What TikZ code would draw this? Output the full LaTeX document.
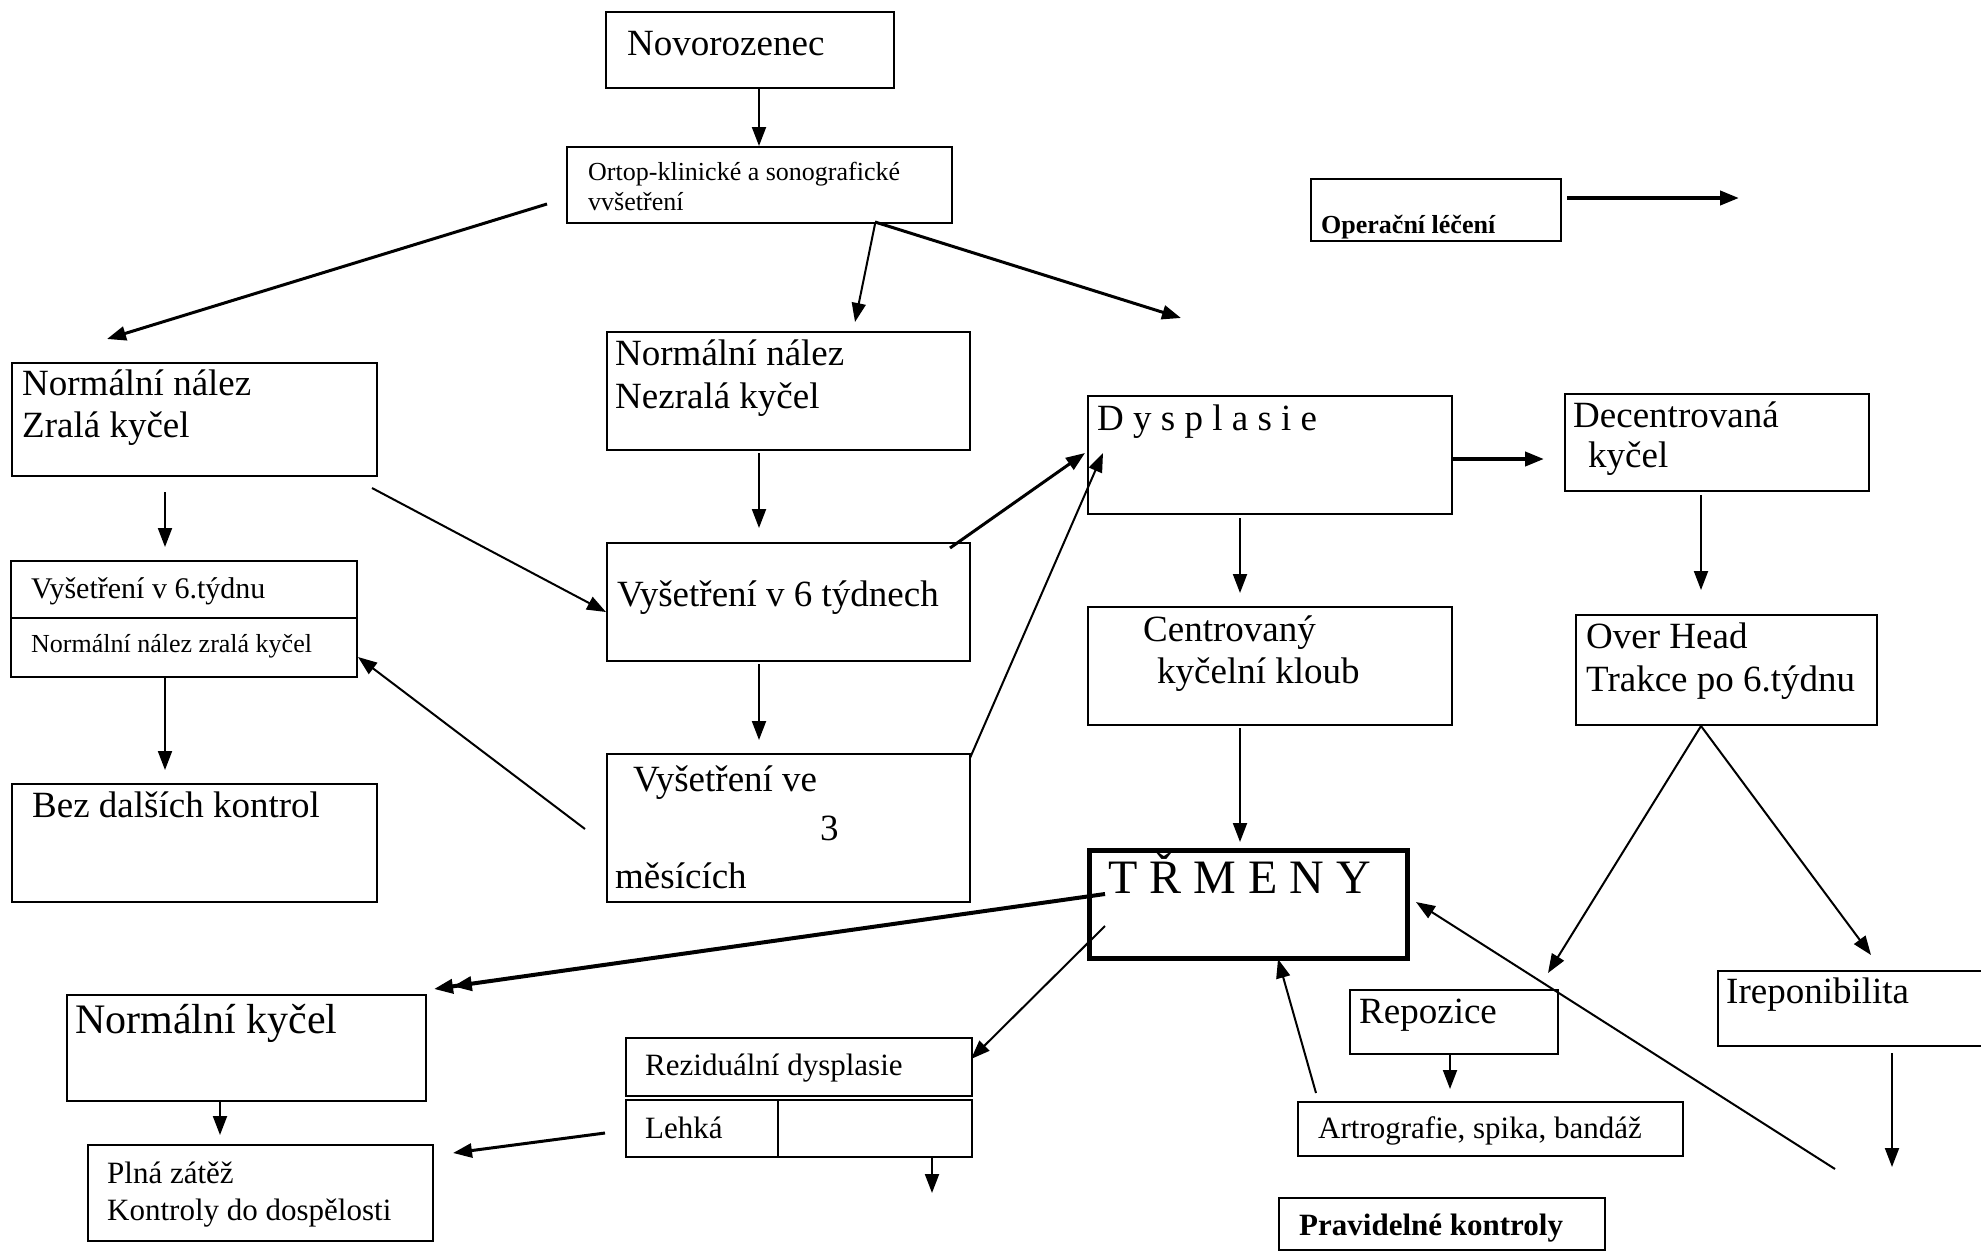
\documentclass[tikz,border=0pt]{standalone}
\usepackage{fontspec}
\setmainfont{Liberation Serif}
\usetikzlibrary{arrows.meta,calc}
\newcommand\fsz[1]{\fontsize{#1}{#1}\selectfont}
\newcommand\bx[6][]{\node[boxst,#1, minimum width=#5-#3, minimum height=#6-#4] (#2) at (#3,#4) {};}
\begin{document}
\begin{tikzpicture}[x=1pt,y=-1pt,
  boxst/.style={draw, line width=2.2pt, inner sep=0pt, anchor=north west},
  txt/.style={anchor=base west, inner sep=0pt},
  arr/.style={-{Triangle[length=19pt,width=14pt]}, line width=2pt},
  thk/.style={line width=3pt},
  big/.style={font=\fsz{37}},
  mid/.style={font=\fsz{31}},
  sml/.style={font=\fsz{26}}]
\fill[white] (0,0) rectangle (1981,1251);
\useasboundingbox (0,0) rectangle (1981,1251);
% boxes
\bx{nov}{605}{11}{893}{87}
\bx{ortop}{566}{146}{951}{222}
\bx{nnz}{11}{362}{376}{475}
\bx{nnn}{606}{331}{969}{449}
\bx{oper}{1310}{178}{1560}{240}
\bx{dys}{1087}{395}{1451}{513}
\bx{dec}{1564}{393}{1868}{490}
\bx{vsix}{10}{560}{356}{676}
\bx{bez}{11}{783}{376}{901}
\bx{vsixt}{606}{542}{969}{660}
\bx{vtri}{606}{753}{969}{901}
\bx{cen}{1087}{606}{1451}{724}
\bx{over}{1575}{614}{1876}{724}
\bx[line width=4.5pt]{trm}{1087}{848}{1405}{956}
\bx{rep}{1349}{989}{1557}{1053}
\bx{art}{1297}{1101}{1682}{1155}
\bx{irep}{1717}{970}{2010}{1045}
\bx{prav}{1278}{1197}{1604}{1249}
\bx{nk}{66}{994}{425}{1100}
\bx{plna}{87}{1144}{432}{1240}
\bx{rez}{625}{1037}{971}{1095}
\bx{leh}{625}{1099}{971}{1156}
% dividers
\draw[line width=2.2pt] ($(vsix.north west)+(0,58)$) -- ($(vsix.north east)+(0,58)$);
\draw[line width=1.6pt] ($(leh.north west)+(153,0)$) -- ($(leh.south west)+(153,0)$);
% texts
\node[txt,big] (tnov) at (627,55) {Novorozenec};
\node[txt,sml] (tortA) at (588,180) {Ortop-klinické a sonografické};
\node[txt,sml] (tortB) at (588,210) {vvšetření};
\node[txt,big] (tnnzA) at (22,395) {Normální nález};
\node[txt,big] (tnnzB) at (22,437) {Zralá kyčel};
\node[txt,big] (tnnnA) at (615,365) {Normální nález};
\node[txt,big] (tnnnB) at (615,408) {Nezralá kyčel};
\node[txt,font=\bfseries\fsz{26}] (toper) at (1321,233) {Operační léčení};
\node[txt,big] (tdys) at (1097,430) {D y s p l a s i e};
\node[txt,big] (tdecA) at (1573,427) {Decentrovaná};
\node[txt,big] (tdecB) at (1588,467) {kyčel};
\node[txt,font=\fsz{30}] (tvsixA) at (31,598) {Vyšetření v 6.týdnu};
\node[txt,sml] (tvsixB) at (31,652) {Normální nález zralá kyčel};
\node[txt,big] (tbez) at (32,817) {Bez dalších kontrol};
\node[txt,big] (tvsixt) at (617,606) {Vyšetření v 6 týdnech};
\node[txt,big] (tvtriA) at (633,791) {Vyšetření ve};
\node[txt,big] (tvtriB) at (820,840) {3};
\node[txt,big] (tvtriC) at (615,888) {měsících};
\node[txt,big] (tcenA) at (1143,641) {Centrovaný};
\node[txt,big] (tcenB) at (1157,683) {kyčelní kloub};
\node[txt,big] (toverA) at (1586,648) {Over Head};
\node[txt,big] (toverB) at (1586,691) {Trakce po 6.týdnu};
\node[txt,font=\fsz{48}] (ttrm) at (1108,893) {T Ř M E N Y};
\node[txt,big] (trep) at (1359,1023) {Repozice};
\node[txt,mid] (tart) at (1318,1138) {Artrografie, spika, bandáž};
\node[txt,big] (tirep) at (1726,1003) {Ireponibilita};
\node[txt,font=\bfseries\fsz{31}] (tprav) at (1299,1235) {Pravidelné kontroly};
\node[txt,font=\fsz{42}] (tnk) at (75,1033) {Normální kyčel};
\node[txt,mid] (tplnaA) at (107,1183) {Plná zátěž};
\node[txt,mid] (tplnaB) at (107,1220) {Kontroly do dospělosti};
\node[txt,mid] (trez) at (645,1075) {Reziduální dysplasie};
\node[txt,mid] (tleh) at (645,1138) {Lehká};
% connector end points
\coordinate (a1s) at (759,88);   \coordinate (a1e) at (759,146);
\coordinate (a2s) at (547,204);  \coordinate (a2e) at (107,339);
\coordinate (a3s) at (875,224);  \coordinate (a3e) at (855,322);
\coordinate (a4s) at (875,222);  \coordinate (a4e) at (1181,318);
\coordinate (a5s) at (165,492);  \coordinate (a5e) at (165,547);
\coordinate (a6s) at (372,488);  \coordinate (a6e) at (606,612);
\coordinate (a7s) at (759,453);  \coordinate (a7e) at (759,528);
\coordinate (a8s) at (165,676);  \coordinate (a8e) at (165,770);
\coordinate (a9s) at (759,664);  \coordinate (a9e) at (759,740);
\coordinate (a10s) at (585,829); \coordinate (a10e) at (358,657);
\coordinate (a11s) at (950,548); \coordinate (a11e) at (1085,453);
\coordinate (a12s) at (970,758); \coordinate (a12e) at (1103,453);
\coordinate (a13s) at (1451,459); \coordinate (a13e) at (1544,459);
\coordinate (a14s) at (1567,198); \coordinate (a14e) at (1739,198);
\coordinate (a15s) at (1240,518); \coordinate (a15e) at (1240,593);
\coordinate (a16s) at (1240,728); \coordinate (a16e) at (1240,842);
\coordinate (a17s) at (1701,495); \coordinate (a17e) at (1701,590);
\coordinate (apex) at (1701,726);
\coordinate (a18e) at (1548,973);
\coordinate (a19e) at (1871,955);
\coordinate (a20s) at (1450,1053); \coordinate (a20e) at (1450,1089);
\coordinate (a21s) at (1316,1093); \coordinate (a21e) at (1278,959);
\coordinate (a22s) at (1835,1169); \coordinate (a22e) at (1416,902);
\coordinate (a23s) at (1892,1053); \coordinate (a23e) at (1892,1167);
\coordinate (a24s) at (1105,894); \coordinate (a24e) at (434,989);
\coordinate (a25s) at (1105,926); \coordinate (a25e) at (971,1059);
\coordinate (a26s) at (220,1100); \coordinate (a26e) at (220,1135);
\coordinate (a27s) at (605,1133); \coordinate (a27e) at (453,1153);
\coordinate (a28s) at (932,1156); \coordinate (a28e) at (932,1193);
% connectors
\draw[arr] (a1s) -- (a1e);
\draw[arr,thk] (a2s) -- (a2e);
\draw[arr] (a3s) -- (a3e);
\draw[arr,thk] (a4s) -- (a4e);
\draw[arr] (a5s) -- (a5e);
\draw[arr] (a6s) -- (a6e);
\draw[arr] (a7s) -- (a7e);
\draw[arr] (a8s) -- (a8e);
\draw[arr] (a9s) -- (a9e);
\draw[arr] (a10s) -- (a10e);
\draw[arr,thk] (a11s) -- (a11e);
\draw[arr] (a12s) -- (a12e);
\draw[arr,line width=4pt] (a13s) -- (a13e);
\draw[arr,line width=4pt] (a14s) -- (a14e);
\draw[arr] (a15s) -- (a15e);
\draw[arr] (a16s) -- (a16e);
\draw[arr] (a17s) -- (a17e);
\draw[arr] (apex) -- (a18e);
\draw[arr] (apex) -- (a19e);
\draw[arr] (a20s) -- (a20e);
\draw[arr] (a21s) -- (a21e);
\draw[arr] (a22s) -- (a22e);
\draw[arr] (a23s) -- (a23e);
\draw[-{Triangle[length=19pt,width=14pt] Triangle[length=19pt,width=14pt]}, line width=4pt] (a24s) -- (a24e);
\draw[arr] (a25s) -- (a25e);
\draw[arr] (a26s) -- (a26e);
\draw[arr,thk] (a27s) -- (a27e);
\draw[arr] (a28s) -- (a28e);
\end{tikzpicture}
\end{document}
